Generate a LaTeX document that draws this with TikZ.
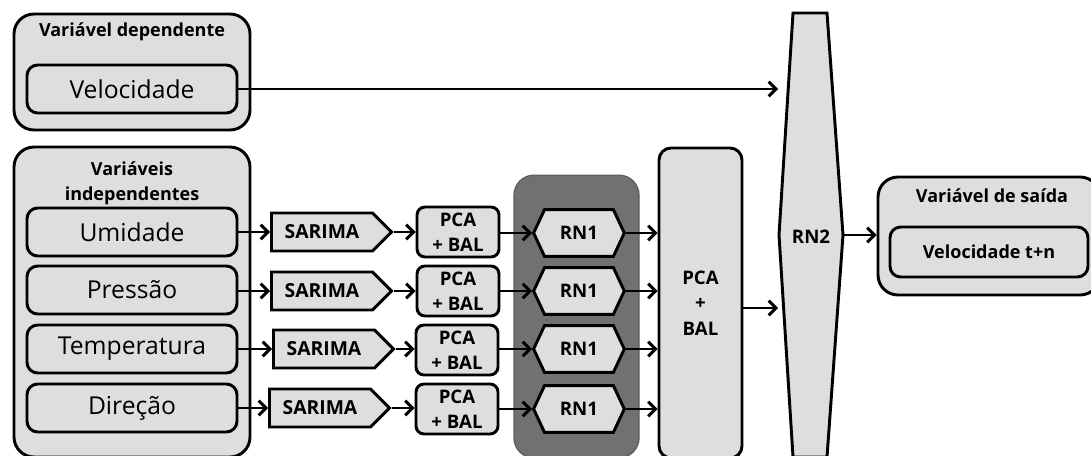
\documentclass[tikz,border=0pt]{standalone}
\usepackage{fontspec}
\setmainfont{Open Sans}
\usetikzlibrary{arrows.meta,shapes.symbols}
\definecolor{boxgray}{HTML}{DEDEDE}
\definecolor{darkbox}{HTML}{717171}
\definecolor{darkedge}{HTML}{5E5E5E}
\begin{document}
\begin{tikzpicture}[x=0.75pt,y=-0.75pt,
  lgray/.style={fill=boxgray,draw=black,line width=2.2pt},
  outerbox/.style={lgray,rounded corners=15pt,inner sep=0pt},
  innerbox/.style={lgray,rounded corners=8pt,inner sep=0pt,minimum width=157.5pt,minimum height=36pt,font=\fontsize{18.5}{22}\selectfont},
  titletext/.style={font=\bfseries\fontsize{13.5}{19}\selectfont,align=center,inner sep=0pt},
  sarbox/.style={lgray,shape=signal,signal to=east,signal pointer angle=90,inner sep=0pt,minimum width=90pt,minimum height=28.5pt,font=\bfseries\fontsize{14.5}{16}\selectfont},
  pcabox/.style={lgray,rounded corners=6pt,inner sep=0pt,minimum width=61.5pt,minimum height=37.5pt,align=center,font=\bfseries\fontsize{14}{18.5}\selectfont},
  rnbox/.style={lgray,shape=signal,signal to=east and west,signal pointer angle=130,inner sep=0pt,minimum width=68pt,minimum height=35pt,font=\bfseries\fontsize{14}{16}\selectfont},
  arr/.style={line width=2.2pt,-{Straight Barb[length=5.5pt,width=11pt]}}
]
\useasboundingbox (0,0) rectangle (1091,456);

% dependent variable
\node[outerbox,minimum width=177pt,minimum height=87pt] (depout) at (132,72) {};
\node[titletext] (deptitle) at (132,32) {Variável dependente};
\node[innerbox] (vel) at (132,89) {Velocidade};

% independent variables
\node[outerbox,minimum width=177pt,minimum height=232.5pt] (indout) at (132,302) {};
\node[titletext] (indtitle) at (132,183) {Variáveis\\independentes};
\node[innerbox] (umi) at (132,232) {Umidade};
\node[innerbox] (pre) at (132,290) {Pressão};
\node[innerbox] (tem) at (132,349) {Temperatura};
\node[innerbox] (dir) at (132,408) {Direção};

% SARIMA
\node[sarbox,anchor=west] (s1) at (270,232) {SARIMA};
\node[sarbox,anchor=west] (s2) at (270,291) {SARIMA};
\node[sarbox,anchor=west] (s3) at (272,349) {SARIMA};
\node[sarbox,anchor=west] (s4) at (268,408) {SARIMA};

% PCA + BAL small
\node[pcabox] (p1) at (458,232) {PCA\\+ BAL};
\node[pcabox] (p2) at (458,291) {PCA\\+ BAL};
\node[pcabox] (p3) at (457,350) {PCA\\+ BAL};
\node[pcabox] (p4) at (457,409) {PCA\\+ BAL};

% dark group
\node[fill=darkbox,draw=darkedge,line width=1pt,rounded corners=15pt,minimum width=93.75pt,minimum height=212pt,inner sep=0pt] (grp) at (576.5,316.5) {};
\node[rnbox,anchor=west] (r1) at (532,233) {RN1};
\node[rnbox,anchor=west] (r2) at (532,291) {RN1};
\node[rnbox,anchor=west] (r3) at (532,349) {RN1};
\node[rnbox,anchor=west] (r4) at (532,409) {RN1};

% big PCA + BAL
\node[lgray,rounded corners=9pt,minimum width=62.25pt,minimum height=232.5pt,inner sep=0pt,align=center,font=\bfseries\fontsize{14}{19}\selectfont] (bigpca) at (700.5,303) {PCA\\+\\BAL};

% RN2
\draw[lgray] (793,13) -- (827,13) -- (843,235) -- (827,457) -- (793,457) -- (779,235) -- cycle;
\node[font=\bfseries\fontsize{14}{16}\selectfont,inner sep=0pt] (rn2) at (811,237) {RN2};
\coordinate (rn2a) at (778,89);
\coordinate (rn2b) at (778,308);
\coordinate (rn2r) at (843,235);

% output
\node[outerbox,minimum width=166.5pt,minimum height=88.5pt] (outbox) at (989,236) {};
\node[titletext] (outtitle) at (992,196) {Variável de saída};
\node[lgray,rounded corners=8pt,inner sep=0pt,minimum width=148.5pt,minimum height=37.5pt,font=\bfseries\fontsize{13.5}{16}\selectfont] (velout) at (989,252) {Velocidade t+n};

% connectors
\draw[arr] (vel.east) -- (rn2a);
\foreach \a/\b/\c/\d in {umi/s1/p1/r1, pre/s2/p2/r2, tem/s3/p3/r3, dir/s4/p4/r4}{
  \draw[arr] (\a.east |- \b.west) -- (\b.west);
  \draw[arr] (\b.east) -- (\c.west |- \b.east);
  \draw[arr] (\c.east |- \d.west) -- (\d.west);
  \draw[arr] (\d.east) -- (\d.east -| bigpca.west);
}
\draw[arr] (bigpca.east |- rn2b) -- (rn2b);
\draw[arr] (rn2r) -- (outbox.west |- rn2r);
\end{tikzpicture}
\end{document}
